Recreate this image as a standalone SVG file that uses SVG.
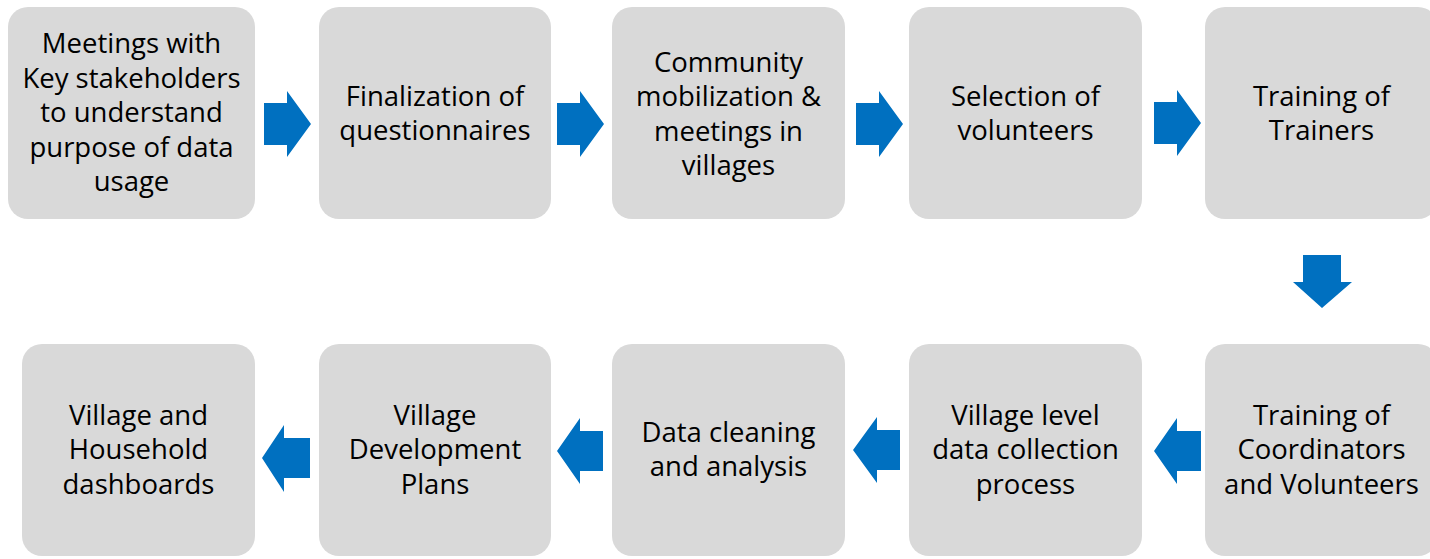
<svg xmlns="http://www.w3.org/2000/svg" width="1430" height="559" viewBox="0 0 1430 559">
<style>
.box{fill:#d9d9d9;}
.arr{fill:#0070c0;}
text{font-family:"Open Sans","Liberation Sans",sans-serif;font-size:27.5px;fill:#000;text-anchor:middle;}
</style>
<rect width="1430" height="559" fill="#ffffff"/>
<g id="n1"><rect class="box" x="8" y="7" width="247" height="212" rx="20"/>
<text x="131.5"><tspan x="131.5" y="53">Meetings with</tspan><tspan x="131.5" y="87.5">Key stakeholders</tspan><tspan x="131.5" y="122">to understand</tspan><tspan x="131.5" y="156.5">purpose of data</tspan><tspan x="131.5" y="191">usage</tspan></text></g>
<g id="n2"><rect class="box" x="319" y="7" width="232" height="212" rx="20"/>
<text><tspan x="435" y="105.5">Finalization of</tspan><tspan x="435" y="140">questionnaires</tspan></text></g>
<g id="n3"><rect class="box" x="612" y="7" width="233" height="212" rx="20"/>
<text><tspan x="728.5" y="71.5">Community</tspan><tspan x="728.5" y="106">mobilization &amp;</tspan><tspan x="728.5" y="140.5">meetings in</tspan><tspan x="728.5" y="175">villages</tspan></text></g>
<g id="n4"><rect class="box" x="909" y="7" width="233" height="212" rx="20"/>
<text><tspan x="1025.5" y="105.5">Selection of</tspan><tspan x="1025.5" y="140">volunteers</tspan></text></g>
<g id="n5"><rect class="box" x="1205" y="7" width="233" height="212" rx="20"/>
<text><tspan x="1321.5" y="105.5">Training of</tspan><tspan x="1321.5" y="140">Trainers</tspan></text></g>
<g id="n6"><rect class="box" x="1205" y="344" width="233" height="212" rx="20"/>
<text><tspan x="1321.5" y="424.5">Training of</tspan><tspan x="1321.5" y="459">Coordinators</tspan><tspan x="1321.5" y="493.5">and Volunteers</tspan></text></g>
<g id="n7"><rect class="box" x="909" y="344" width="233" height="212" rx="20"/>
<text><tspan x="1025.5" y="424.5">Village level</tspan><tspan x="1025.5" y="459">data collection</tspan><tspan x="1025.5" y="493.5">process</tspan></text></g>
<g id="n8"><rect class="box" x="612" y="344" width="233" height="212" rx="20"/>
<text><tspan x="728.5" y="441.75">Data cleaning</tspan><tspan x="728.5" y="476.25">and analysis</tspan></text></g>
<g id="n9"><rect class="box" x="319" y="344" width="232" height="212" rx="20"/>
<text><tspan x="435" y="424.5">Village</tspan><tspan x="435" y="459">Development</tspan><tspan x="435" y="493.5">Plans</tspan></text></g>
<g id="n10"><rect class="box" x="22" y="344" width="233" height="212" rx="20"/>
<text><tspan x="138.5" y="424.5">Village and</tspan><tspan x="138.5" y="459">Household</tspan><tspan x="138.5" y="493.5">dashboards</tspan></text></g>
<g id="connectors">
<polygon class="arr" points="264,103 287,103 287,91 311,124 287,157 287,145 264,145"/>
<polygon class="arr" points="557,103 580,103 580,91 604,124 580,157 580,145 557,145"/>
<polygon class="arr" points="856,103 879,103 879,91 903,124 879,157 879,145 856,145"/>
<polygon class="arr" points="1154,102 1177,102 1177,90 1201,123 1177,156 1177,144 1154,144"/>
<polygon class="arr" points="1303,255 1341,255 1341,282 1352,282 1322,308 1293,282 1303,282"/>
<polygon class="arr" points="1201,431 1177,431 1177,418 1154,451 1177,484 1177,471 1201,471"/>
<polygon class="arr" points="900,430 877,430 877,417 853,450 877,483 877,470 900,470"/>
<polygon class="arr" points="603,431 580,431 580,418 557,451 580,484 580,471 603,471"/>
<polygon class="arr" points="310,438 284,438 284,425 262,458 284,492 284,478 310,478"/>
</g>
</svg>
